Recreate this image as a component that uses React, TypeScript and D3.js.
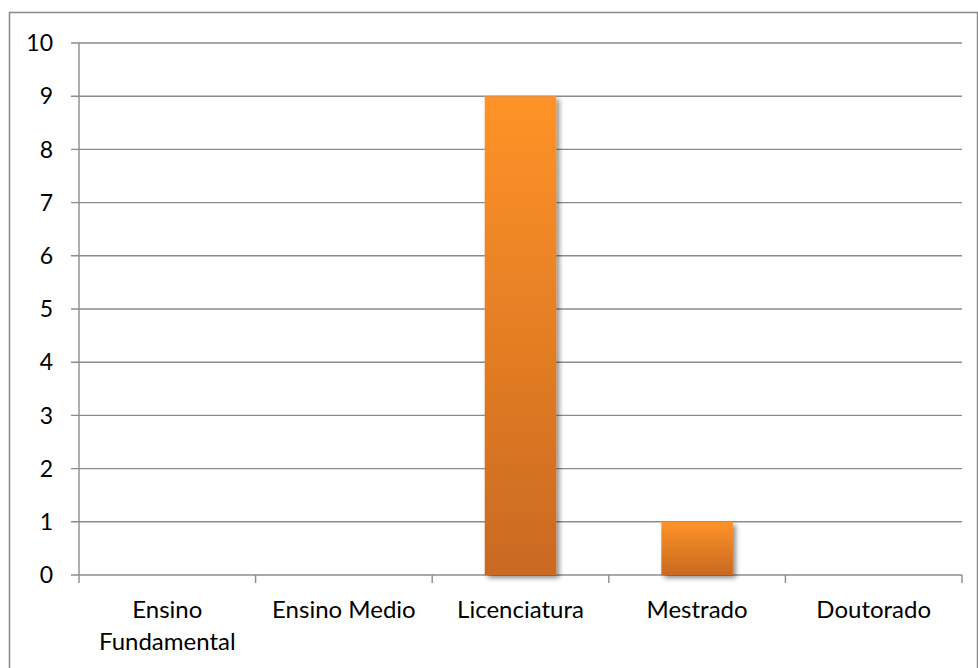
import React from "react";
import * as d3 from "d3";

const categories: string[][] = [
  ["Ensino", "Fundamental"],
  ["Ensino Medio"],
  ["Licenciatura"],
  ["Mestrado"],
  ["Doutorado"],
];
const values: number[] = [0, 0, 9, 1, 0];
const yTicks: number[] = [0, 1, 2, 3, 4, 5, 6, 7, 8, 9, 10];

const W = 978;
const H = 668;
const left = 79;
const right = 962;
const top = 43;
const bottom = 575;
const font = "Lato, 'Open Sans', sans-serif";

export default function App() {
  const keys = categories.map((c) => c.join(" "));
  const x = d3.scaleBand<string>().domain(keys).range([left, right]).padding(0);
  const y = d3.scaleLinear().domain([0, 10]).range([bottom, top]);
  const bw = x.bandwidth() * 0.405;
  const grid = "#8c8c8c";
  const tickXs = [...keys.map((k) => x(k) as number), right];

  return (
    <div style={{ position: "absolute", left: 0, top: 0 }}>
      <svg width={W} height={H} style={{ display: "block" }}>
        <defs>
          <linearGradient id="barGrad" x1="0" y1="0" x2="0" y2="1">
            <stop offset="0%" stopColor="#FF9329" />
            <stop offset="100%" stopColor="#C96920" />
          </linearGradient>
          <filter id="shadow" x="-20%" y="-10%" width="140%" height="130%">
            <feGaussianBlur in="SourceAlpha" stdDeviation="2.5" />
            <feOffset dx="2.5" dy="3" result="b" />
            <feComponentTransfer>
              <feFuncA type="linear" slope="0.45" />
            </feComponentTransfer>
            <feMerge>
              <feMergeNode />
              <feMergeNode in="SourceGraphic" />
            </feMerge>
          </filter>
        </defs>
        <rect x={0} y={0} width={W} height={H} fill="#fff" />
        <rect x={9.5} y={12.5} width={968} height={660} fill="none" stroke="#888" strokeWidth={1.5} />
        {yTicks.map((t) => (
          <g key={t}>
            <line x1={left - 8} x2={right} y1={y(t)} y2={y(t)} stroke={grid} strokeWidth={1.4} />
            <text
              x={53}
              y={y(t)}
              dy="0.36em"
              textAnchor="end"
              fontFamily={font}
              fontSize={23}
              fill="#000"
            >
              {t}
            </text>
          </g>
        ))}
        <line x1={left} x2={left} y1={top} y2={bottom} stroke={grid} strokeWidth={1.4} />
        {tickXs.map((tx, i) => (
          <line key={i} x1={tx} x2={tx} y1={bottom} y2={bottom + 8} stroke={grid} strokeWidth={1.4} />
        ))}
        {values.map((v, i) =>
          v > 0 ? (
            <rect
              key={i}
              x={(x(keys[i]) as number) + x.bandwidth() / 2 - bw / 2}
              y={y(v)}
              width={bw}
              height={y(0) - y(v)}
              fill="url(#barGrad)"
              filter="url(#shadow)"
            />
          ) : null
        )}
        {categories.map((lines, i) => (
          <text
            key={i}
            x={(x(keys[i]) as number) + x.bandwidth() / 2}
            y={618}
            textAnchor="middle"
            fontFamily={font}
            fontSize={24}
            fill="#000"
          >
            {lines.map((l, j) => (
              <tspan key={j} x={(x(keys[i]) as number) + x.bandwidth() / 2} dy={j === 0 ? 0 : 32}>
                {l}
              </tspan>
            ))}
          </text>
        ))}
      </svg>
    </div>
  );
}
